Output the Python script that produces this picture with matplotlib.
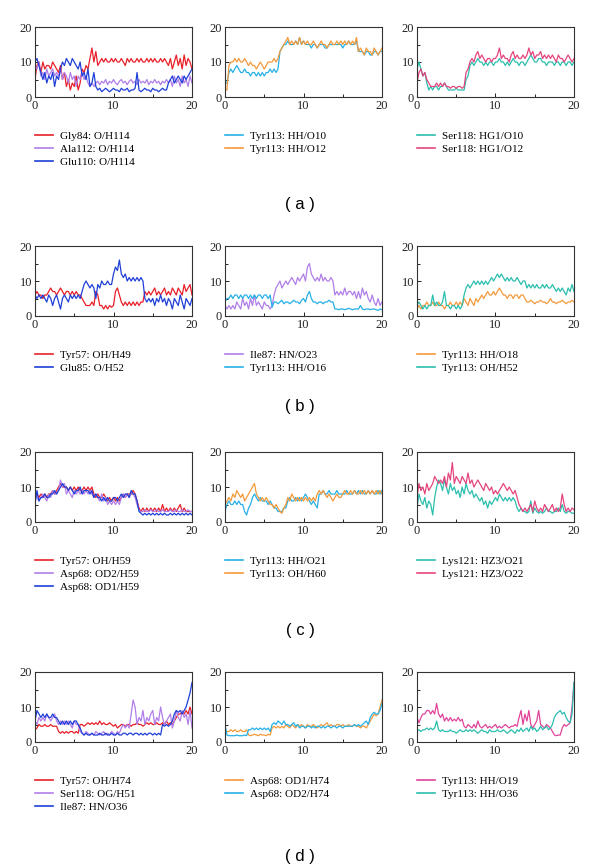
import numpy as np
from matplotlib import pyplot as plt

# time axis (ns), one sample every 0.25
t = np.arange(81) * 0.25

# ---- row (a) ----
gly84_o_h114 = [5, 9, 10, 7, 10, 8, 9, 9, 8, 10, 9, 8, 7, 9, 5, 7, 3, 5, 2, 4, 3, 6, 2, 4, 8, 7, 9, 8, 11, 14, 10, 13,
                9, 10, 11, 10, 11, 10, 10, 11, 10, 11, 10, 10, 11, 10, 9, 11, 10, 11, 10, 10, 11, 10, 11, 10,
                10, 11, 10, 11, 10, 11, 10, 10, 11, 10, 11, 10,
                9, 11, 8, 10, 12, 9, 11, 8, 12, 9, 11, 10, 8]
ala112_o_h114 = [9, 8, 10, 6, 7, 5, 8, 6, 7, 8, 6, 7, 6, 8, 5, 7, 6, 4, 7, 5, 6, 3, 6, 5, 7, 5, 6, 4, 3, 4, 3, 4,
                 4.5, 3.5, 4.5, 4, 5, 3.5, 4.5, 4, 5, 4, 3.5, 4.5, 5, 4, 4.5, 3.5, 4.5, 5,
                 4, 4.5, 3.5, 5, 4, 4.5, 4, 5, 3.5, 4.5, 4, 5, 4, 4.5, 3.5, 4.5, 4, 5,
                 4, 5, 3, 6, 4, 5, 3, 6, 4, 5, 3, 6, 4]
glu110_o_h114 = [10, 11, 9, 7, 5, 7, 4, 6, 5, 7, 3, 6, 5, 8, 10, 9, 11, 10, 9, 11, 10, 9, 8, 10, 6, 7, 5, 8, 3, 4, 7, 3,
                 2, 2.5, 1.5, 2, 2.5, 2, 1.5, 2, 2.5, 2, 2, 1.5, 2.5, 2, 2, 2.5, 1.5, 2,
                 2, 2.5, 7, 2, 1.5, 2, 2.5, 2, 2, 1.5, 2.5, 2, 2, 1.5, 2, 2.5, 2, 2,
                 4, 5, 6, 4, 5, 6, 5, 4, 6, 5, 6, 7, 8]
tyr113_hh_o10 = [4, 4, 7, 8, 7, 8, 9, 8, 7, 7, 8, 7, 7, 6, 7, 7, 6, 7, 6, 7, 6, 7, 7, 8, 7, 8, 7, 8, 13, 14, 15, 15,
                 16, 15, 15, 15, 16, 15, 17, 15, 16, 15, 15, 15, 14, 15, 15, 14, 15, 15,
                 15, 14, 14, 15, 15, 15, 15, 15, 15, 15, 14, 15, 15, 16, 15, 15, 15, 16,
                 13, 13, 13, 12, 13, 13, 12, 12, 13, 13, 12, 13, 13]
tyr113_hh_o12 = [2, 2, 9, 10, 10, 11, 10, 11, 10, 10, 11, 10, 9, 10, 9, 9, 8, 9, 10, 9, 8, 9, 10, 10, 10, 11, 10, 11,
                 13, 14, 15, 16,
                 17, 15, 16, 15, 16, 15, 17, 15, 16, 15, 16, 15, 15, 16, 15, 14, 15, 16,
                 15, 15, 14, 15, 16, 15, 15, 16, 15, 16, 15, 16, 15, 16, 15, 16, 15, 17,
                 13, 14, 13, 12, 14, 13, 13, 12, 14, 13, 12, 13, 14]
ser118_hg1_o10 = [8, 10, 8, 6, 7, 4, 2, 3, 2, 3, 3, 2, 3, 3, 4, 3, 2, 2, 2, 2, 2.5, 2, 2, 2, 2, 5, 6, 9, 10, 9, 10, 11,
                  10, 10, 9, 10, 9, 10, 10, 9, 10, 10, 11, 10, 10, 9, 10, 9, 10, 11,
                  10, 10, 9, 10, 10, 9, 10, 11, 12, 11, 10, 10, 11, 11, 10, 10, 9, 10,
                  10, 10, 9, 10, 10, 9, 10, 10, 9, 10, 10, 9, 10]
ser118_hg1_o12 = [4, 7, 8, 6, 7, 5, 4, 3, 3, 3, 4, 3, 4, 3, 4, 3, 3, 2.5, 3, 3, 2.5, 3, 3, 2.5, 3, 7, 8, 10,
                  11, 10, 12, 13,
                  11, 12, 11, 10, 11, 11, 10, 11, 11, 12, 14, 11, 12, 11, 11, 10, 12, 13,
                  11, 12, 11, 11, 12, 11, 12, 14, 12, 13, 11, 12, 12, 13, 11, 12, 11, 12,
                  11, 12, 11, 10, 12, 11, 11, 10, 11, 12, 11, 10, 11]

# ---- row (b) ----
tyr57_oh_h49 = [6, 7, 6, 6, 5, 6, 6, 7, 8, 7, 7, 6, 7, 8, 7, 6, 7, 7, 6, 7, 6, 7, 6, 6, 5, 4, 3, 3, 3, 4, 3, 7,
                6, 3, 3, 2, 3, 2, 3, 2.5, 3, 7, 8, 6, 4, 3, 4, 3, 4, 3,
                4, 3, 4, 3, 4, 4, 7, 6, 7, 6, 7, 8, 6, 7, 6, 7, 8, 6,
                7, 6, 8, 7, 6, 8, 7, 6, 9, 7, 8, 9, 6]
glu85_o_h52 = [6, 5, 6, 5, 6, 5, 4, 6, 5, 3, 5, 6, 4, 2, 5, 6, 5, 4, 6, 5, 6, 5, 6, 5, 7, 9, 10, 9, 8, 9, 8, 5,
               9, 8, 10, 9, 9, 10, 9, 9, 12, 14, 13, 16, 12, 11, 12, 10, 11, 10,
               11, 10, 11, 10, 11, 10, 5, 4, 5, 4, 5, 3, 5, 4, 6, 4, 5, 3,
               5, 4, 2, 5, 4, 3, 6, 4, 2, 5, 4, 3, 5]
ile87_hn_o23 = [3, 2, 3, 2, 3, 2, 4, 3, 2, 5, 3, 4, 2, 5, 3, 6, 3, 4, 3, 2, 4, 3, 3, 2, 3, 6, 8, 9, 10, 8, 9, 10,
                9, 10, 11, 10, 9, 11, 10, 11, 12, 10, 14, 15, 12, 11, 10, 11, 10, 12,
                10, 11, 10, 10, 11, 10, 6, 7, 6, 7, 6, 8, 6, 7, 7, 6, 7, 5,
                7, 5, 8, 6, 7, 5, 4, 6, 4, 3, 5, 3, 4]
tyr113_hh_o16 = [4, 5, 5, 6, 5, 6, 6, 5, 6, 5, 6, 6, 5, 6, 5, 6, 5, 6, 6, 5, 6, 6, 5, 6, 2.5, 4, 4, 3.5, 4, 4.5, 3.5, 4,
                 4, 3.5, 4, 4.5, 4, 4, 3.5, 4.5, 5, 4, 6, 7, 5, 4, 4, 3.5, 4, 4,
                 3.5, 4, 4, 4.5, 4, 4, 2, 2, 1.8, 2, 2, 1.8, 2, 2.2, 2, 1.8, 2, 2,
                 2, 3, 2, 1.8, 2, 2, 1.8, 2, 2, 1.8, 1.6, 2, 1.8]
tyr113_hh_o18 = [2, 3, 2, 3, 3, 4, 3, 3, 4, 3, 3, 4, 3, 3, 2, 3, 3, 4, 3, 3, 4, 3, 4, 3, 5, 4, 3, 5, 4, 3, 5, 4,
                 5, 6, 5, 6, 7, 6, 6, 7, 6, 7, 8, 7, 6, 6, 5, 6, 6, 5,
                 6, 6, 5, 6, 6, 5, 4, 4, 4.5, 4, 3.5, 4, 4, 4.5, 4, 4, 3.5, 4,
                 5, 4, 4, 3.5, 4, 4, 4.5, 4, 3.5, 4, 4, 4.5, 4]
tyr113_oh_h52 = [3, 4, 3, 2, 3, 2, 3, 3, 6, 3, 4, 3, 3, 4, 7, 3, 3, 2, 3, 3, 2, 3, 2, 3, 6, 8, 9, 8, 9, 10, 9, 10,
                 9, 10, 9, 10, 9, 10, 11, 10, 11, 12, 11, 12, 11, 10, 11, 10, 11, 10,
                 10, 11, 10, 9, 10, 10, 8, 9, 8, 9, 8, 9, 8, 8, 9, 8, 9, 8,
                 8, 9, 8, 7, 8, 7, 8, 7, 6, 8, 7, 9, 7]

# ---- row (c) ----
tyr57_oh_h59 = [7, 8, 7, 8, 7, 8, 7, 8, 8, 9, 8, 9, 10, 11, 10, 10, 10, 9, 10, 9, 10, 9, 10, 9, 9, 10, 9, 10,
                9, 10, 8, 7,
                8, 7, 7, 8, 7, 6, 7, 6, 7, 6, 7, 6, 7, 8, 7, 8, 8, 8,
                9, 8, 6, 4, 3, 4, 3, 4, 3, 4, 3, 4, 3, 4, 3, 5, 3, 4,
                3, 4, 3, 4, 3, 4, 5, 3, 4, 3, 3, 3, 3]
asp68_od2_h59 = [8, 7, 6, 7, 8, 7, 6, 8, 7, 9, 8, 8, 9, 12, 10, 11, 8, 9, 8, 7, 9, 8, 9, 8, 9, 8, 9, 8, 9, 8, 7, 8,
                 7, 6, 8, 6, 7, 5, 6, 5, 6, 5, 6, 5, 7, 8, 7, 8, 7, 8,
                 8, 7, 5, 3.5, 3, 3, 3.5, 3, 3, 3.5, 3, 3, 3.5, 3, 3, 3.5, 3, 3,
                 3, 3.5, 3, 3, 3.5, 3, 3, 3.5, 3, 3, 3.5, 3, 3]
asp68_od1_h59 = [5, 9, 6, 7, 7, 8, 7, 7, 8, 8, 9, 8, 9, 10, 11, 10, 10, 9, 10, 9, 8, 9, 9, 10, 8, 9, 9, 9, 8, 9, 7, 8,
                 7, 7, 6, 7, 6, 7, 6, 6, 7, 7, 6, 7, 8, 7, 8, 8, 7, 9,
                 8, 8, 6, 3, 2.5, 2, 2.5, 2, 2.5, 2, 2.5, 2, 2.5, 2, 2.5, 2, 2.5, 2,
                 2, 2.5, 2, 2.5, 2, 2.5, 2, 2.5, 2, 2.5, 2, 2.5, 2]
tyr113_hh_o21 = [3, 5, 6, 5, 5, 6, 5, 6, 5, 5, 3, 2, 4, 5, 7, 8, 7, 6, 7, 6, 6, 6, 5, 6, 5, 4, 4, 3, 3, 3, 4, 4,
                 6, 7, 6, 6, 7, 6, 7, 6, 7, 8, 7, 6, 5, 6, 5, 4, 8, 8,
                 9, 8, 8, 9, 8, 8, 8, 9, 8, 8, 8, 8, 9, 8, 8, 8, 9, 8,
                 9, 8, 9, 8, 8, 9, 8, 9, 8, 8, 9, 8, 9]
tyr113_oh_h60 = [5, 6, 7, 6, 8, 7, 9, 8, 7, 8, 6, 7, 8, 9, 10, 11, 8, 7, 6, 7, 6, 7, 6, 5, 5, 4, 5, 4, 3, 2.5, 4, 5,
                 7, 6, 8, 7, 6, 7, 6, 7, 6, 7, 6, 7, 6, 7, 6, 8, 9, 8,
                 9, 8, 7, 8, 7, 6, 7, 8, 7, 7, 8, 9, 8, 8, 9, 8, 9, 8,
                 8, 9, 8, 9, 8, 9, 8, 9, 8, 9, 8, 9, 8]
lys121_hz3_o21 = [4, 8, 6, 5, 7, 4, 6, 5, 2, 7, 10, 12, 11, 9, 12, 10, 8, 11, 9, 10, 8, 9, 7, 10, 8, 11, 9, 8,
                  9, 7, 8, 7,
                  6, 7, 5, 6, 4, 6, 5, 6, 7, 6, 8, 7, 6, 7, 6, 7, 6, 7,
                  6, 4, 3, 4, 3, 3, 2.5, 3, 6, 2.5, 4, 3, 2.5, 3, 2.5, 3, 4, 3,
                  3, 2.5, 3, 3, 4, 3, 5, 3, 2.5, 3, 3, 2.5, 2.5]
lys121_hz3_o22 = [7, 11, 9, 10, 8, 11, 9, 10, 11, 13, 12, 11, 12, 11, 13, 10, 14, 12, 17, 11, 13, 12, 11, 13,
                  12, 11, 14, 11, 12, 10, 11, 12,
                  11, 10, 9, 11, 10, 9, 10, 8, 9, 8, 9, 10, 11, 10, 9, 10, 9, 8,
                  9, 7, 5, 4, 3, 4, 3, 4, 5, 3, 6, 4, 3, 4, 3, 5, 4, 3,
                  4, 5, 3, 4, 3, 4, 8, 5, 3, 4, 3, 4, 3.5]

# ---- row (d) ----
tyr57_oh_h74 = [3.5, 4, 5, 4.5, 4.5, 5, 4.5, 4.5, 5, 4.5, 4.5, 4.5, 3, 2.5, 3, 2.5, 3, 2.5, 3, 3, 2.5, 3, 2.5, 5,
                5, 4.5, 5, 5.5, 5, 5.5, 5, 5.5,
                5, 6, 5, 5.5, 5, 5, 5.5, 5, 4.5, 5, 4, 4.5, 5, 5, 4.5, 5, 5, 4.5,
                5, 5, 5.5, 5, 5, 4.5, 5, 5.5, 5, 5.5, 5, 5, 5.5, 5, 5, 5.5, 5, 6,
                5, 5.5, 5, 6, 7, 8, 8, 8.5, 8, 9, 8, 10, 8]
ser118_og_h51 = [6, 5, 7, 6, 7, 6, 8, 7, 6, 7, 8, 6, 5, 6, 5, 6, 5, 6, 5, 4, 6, 5, 5, 3, 2.5, 2, 3, 2.5, 2, 2.5, 2, 3,
                 2.5, 2, 2.5, 3, 2, 2.5, 2, 3, 2.5, 2, 3, 2.5, 4, 5, 4, 5, 4, 8,
                 12, 10, 5, 7, 6, 9, 5, 7, 6, 8, 9, 5, 7, 6, 10, 7, 5, 6,
                 7, 8, 4, 6, 9, 7, 6, 9, 7, 8, 5, 9, 4]
ile87_hn_o36 = [6, 9, 8, 7, 8, 7, 8, 7, 7, 8, 7, 7, 6, 5, 6, 5, 6, 5, 6, 5, 6, 6, 5, 4, 2.5, 2, 2.5, 2, 2, 2.5, 2, 2,
                2, 2.5, 2, 2, 2.5, 2, 2, 2.5, 2, 2, 2.5, 2, 2, 2.5, 2.5, 2, 2.5, 2.5,
                2, 2.5, 2.5, 2, 2.5, 2, 2.5, 2, 2.5, 2.5, 2, 2.5, 2, 2.5, 2, 5, 4.5, 5,
                4.5, 5, 6, 8, 9, 8.5, 9, 8, 9, 10, 12, 14, 17]
asp68_od1_h74 = [2.5, 3, 3, 3.5, 3, 3.5, 3, 3, 3.5, 3, 3, 3.5, 2, 1.8, 2, 2.2, 2, 1.8, 2.2, 2, 2, 1.8, 2.2, 2,
                 4, 4.5, 4, 4.5, 4, 4.5, 4, 5,
                 4.5, 4, 5, 4.5, 4, 5, 4.5, 5, 4.5, 4, 5, 4.5, 4.5, 5, 4.5, 4, 4.5, 5,
                 4.5, 5, 5.5, 4.5, 5, 4.5, 4.5, 5, 5, 4.5, 5, 4.5, 4.5, 5, 4.5, 4.5, 5, 4.5,
                 4.5, 4, 4.5, 4.5, 4, 5, 6, 7, 8, 7.5, 8, 10, 12]
asp68_od2_h74 = [5, 2, 1.8, 1.8, 1.8, 1.8, 2, 1.8, 1.8, 1.8, 2, 1.8, 3.5, 3.5, 4, 3.5, 4, 3.5, 4, 3.5, 4, 3.5, 4, 3,
                 5, 5.5, 5, 6, 5.5, 5, 6, 5,
                 5, 4.5, 5, 5.5, 4.5, 5, 4, 4.5, 4.5, 4, 4.5, 4.5, 4, 4.5, 4, 4.5, 4.5, 4,
                 4.5, 4, 4.5, 4.5, 4, 4.5, 4.5, 4, 4.5, 4.5, 4, 4.5, 4.5, 4.5, 4.5, 4.5, 5, 4.5,
                 5, 4.5, 5, 5.5, 6, 5, 7, 8, 8.5, 8, 8, 9, 11]
tyr113_hh_o19 = [7, 5.5, 7, 8, 8, 9, 9, 8, 9, 8, 11, 8, 7, 8, 6, 7, 6, 7, 6, 6.5, 6, 7, 6, 6.5, 4.5, 4, 5, 4.5,
                 4, 5, 4, 6,
                 4.5, 4, 4.5, 5, 4, 4.5, 4, 4.5, 5, 4, 4.5, 4, 4.5, 5, 4.5, 4, 4.5, 4.5,
                 5, 4.5, 7, 9, 5, 8, 6, 9, 5, 4, 5, 6, 9, 5, 4.5, 4, 5, 4.5,
                 4, 3, 2, 1.8, 2, 2, 4, 5, 4.5, 5, 5.5, 10, 17]
tyr113_hh_o36 = [3, 3.5, 3, 3.5, 3.5, 4, 3.5, 4, 3.5, 4, 6, 3.5, 3, 3.5, 3, 3, 3, 3.5, 3, 3, 2.5, 3, 3.5, 3,
                 3, 3.5, 3, 3.5, 3, 3.5, 3, 2.5,
                 3, 3.5, 3, 3, 2.5, 3.5, 3, 3, 3, 3.5, 3, 3, 3.5, 3, 2.5, 3, 3.5, 3,
                 2.5, 3.5, 3, 4, 3, 3.5, 4, 3, 4.5, 3.5, 4, 3, 3.5, 4.5, 3.5, 4, 4.5, 3.5,
                 4, 5, 7, 8, 8.5, 9, 8, 8.5, 7, 6, 5.5, 8, 17]

RED = '#e8202a'
LAV = '#b07ee8'
BLUE = '#1f3fd8'
CYAN = '#27b0e6'
ORANGE = '#f39a3c'
TEAL = '#2bbfae'
PINK = '#e4457f'
MAGENTA = '#e0449a'

panels = [
    [[(gly84_o_h114, 'Gly84: O/H114', RED), (ala112_o_h114, 'Ala112: O/H114', LAV),
      (glu110_o_h114, 'Glu110: O/H114', BLUE)],
     [(tyr113_hh_o10, 'Tyr113: HH/O10', CYAN), (tyr113_hh_o12, 'Tyr113: HH/O12', ORANGE)],
     [(ser118_hg1_o10, 'Ser118: HG1/O10', TEAL), (ser118_hg1_o12, 'Ser118: HG1/O12', PINK)]],
    [[(tyr57_oh_h49, 'Tyr57: OH/H49', RED), (glu85_o_h52, 'Glu85: O/H52', BLUE)],
     [(ile87_hn_o23, 'Ile87: HN/O23', LAV), (tyr113_hh_o16, 'Tyr113: HH/O16', CYAN)],
     [(tyr113_hh_o18, 'Tyr113: HH/O18', ORANGE), (tyr113_oh_h52, 'Tyr113: OH/H52', TEAL)]],
    [[(tyr57_oh_h59, 'Tyr57: OH/H59', RED), (asp68_od2_h59, 'Asp68: OD2/H59', LAV),
      (asp68_od1_h59, 'Asp68: OD1/H59', BLUE)],
     [(tyr113_hh_o21, 'Tyr113: HH/O21', CYAN), (tyr113_oh_h60, 'Tyr113: OH/H60', ORANGE)],
     [(lys121_hz3_o21, 'Lys121: HZ3/O21', TEAL), (lys121_hz3_o22, 'Lys121: HZ3/O22', PINK)]],
    [[(tyr57_oh_h74, 'Tyr57: OH/H74', RED), (ser118_og_h51, 'Ser118: OG/H51', LAV),
      (ile87_hn_o36, 'Ile87: HN/O36', BLUE)],
     [(asp68_od1_h74, 'Asp68: OD1/H74', ORANGE), (asp68_od2_h74, 'Asp68: OD2/H74', CYAN)],
     [(tyr113_hh_o19, 'Tyr113: HH/O19', MAGENTA), (tyr113_hh_o36, 'Tyr113: HH/O36', TEAL)]],
]
row_labels = ['( a )', '( b )', '( c )', '( d )']

W, H = 600, 865
col_x = [35, 225, 417]
row_top = [27, 246, 452, 672]
label_y = [205, 407, 631, 856]
AX_W, AX_H = 157, 70
SERIF = 'Liberation Serif'

fig = plt.figure(figsize=(W / 100, H / 100), dpi=100)

for r, row in enumerate(panels):
    for c, series in enumerate(row):
        x0, y0 = col_x[c], row_top[r]
        ax = fig.add_axes([x0 / W, 1 - (y0 + AX_H) / H, AX_W / W, AX_H / H])
        for vals, lab, col in series:
            ax.plot(t, vals, color=col, lw=0.9, label=lab)
        ax.set_xlim(0, 20)
        ax.set_ylim(0, 20)
        ax.set_xticks([0, 10, 20])
        ax.set_yticks([0, 10, 20])
        ax.set_xticks([5, 15], minor=True)
        ax.set_yticks([5, 15], minor=True)
        ax.tick_params(which='major', direction='in', length=3, width=0.7, pad=2,
                       labelsize=9, colors='#222222')
        ax.tick_params(which='minor', direction='in', length=2, width=0.6)
        for lbl in ax.get_xticklabels() + ax.get_yticklabels():
            lbl.set_fontfamily(SERIF)
        for sp in ax.spines.values():
            sp.set_color('#333333')
            sp.set_linewidth(0.8)
        leg = ax.legend(loc='upper left', bbox_to_anchor=(x0 / W, 1 - (y0 + AX_H + 34) / H),
                        bbox_transform=fig.transFigure, frameon=False,
                        prop={'family': SERIF, 'size': 8}, handlelength=1.65,
                        handletextpad=0.6, labelspacing=0.3, borderpad=0, borderaxespad=0)
        for h in leg.get_lines():
            h.set_linewidth(1.2)
    fig.text(0.5, 1 - label_y[r] / H, row_labels[r], ha='center', va='center',
             fontsize=12, family='Liberation Sans')

fig.savefig('out.png', dpi=100)
